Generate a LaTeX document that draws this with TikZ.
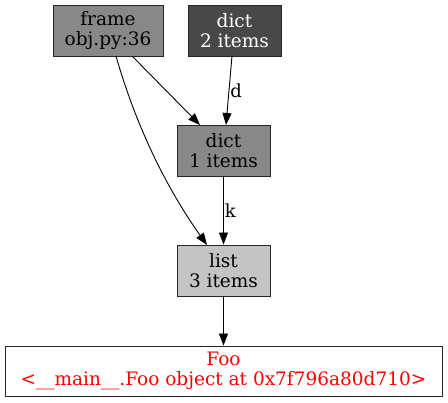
\documentclass[tikz,border=0pt]{standalone}
\usepackage{fontspec}
\setmainfont{DejaVu Serif}
\usetikzlibrary{arrows.meta}
\definecolor{gA}{HTML}{888888}
\definecolor{gB}{HTML}{484848}
\definecolor{gC}{HTML}{C4C4C4}
\begin{document}
\begin{tikzpicture}[x=1pt,y=-1pt,
  obj/.style={draw=black!85,line width=0.9pt,inner sep=0pt,align=center,
    font=\fontsize{18.5}{20}\selectfont},
  edge/.style={draw=black,line width=0.9pt,-{Triangle[length=12pt,width=9pt]}},
  elab/.style={font=\fontsize{18}{20}\selectfont,inner sep=1pt}]
\useasboundingbox (0,0) rectangle (448,403);
\node[obj,fill=gA,minimum width=110pt,minimum height=51pt] (frame) at (108,30.5) {frame\\obj.py:36};
\node[obj,fill=gB,text=white,minimum width=93pt,minimum height=51pt] (d2) at (234.5,30.5) {dict\\2 items};
\node[obj,fill=gA,minimum width=93pt,minimum height=51pt] (d1) at (223.5,150.5) {dict\\1 items};
\node[obj,fill=gC,minimum width=93pt,minimum height=51pt] (lst) at (223.5,270.5) {list\\3 items};
\node[obj,fill=white,text=red,minimum width=437pt,minimum height=50pt] (foo) at (223.5,371) {Foo\\<\_\_main\_\_.Foo object at 0x7f796a80d710>};
\draw[edge] (frame.south east) ++(-31,0) coordinate (fa) -- (200,125);
\draw[edge] (232,56) -- node[elab,right,pos=0.5] {d} (226,125);
\draw[edge] (116,56) .. controls (140,140) and (175,200) .. (207,245);
\draw[edge] (d1) -- node[elab,right,pos=0.5] {k} (lst);
\draw[edge] (lst) -- (foo);
\end{tikzpicture}
\end{document}
